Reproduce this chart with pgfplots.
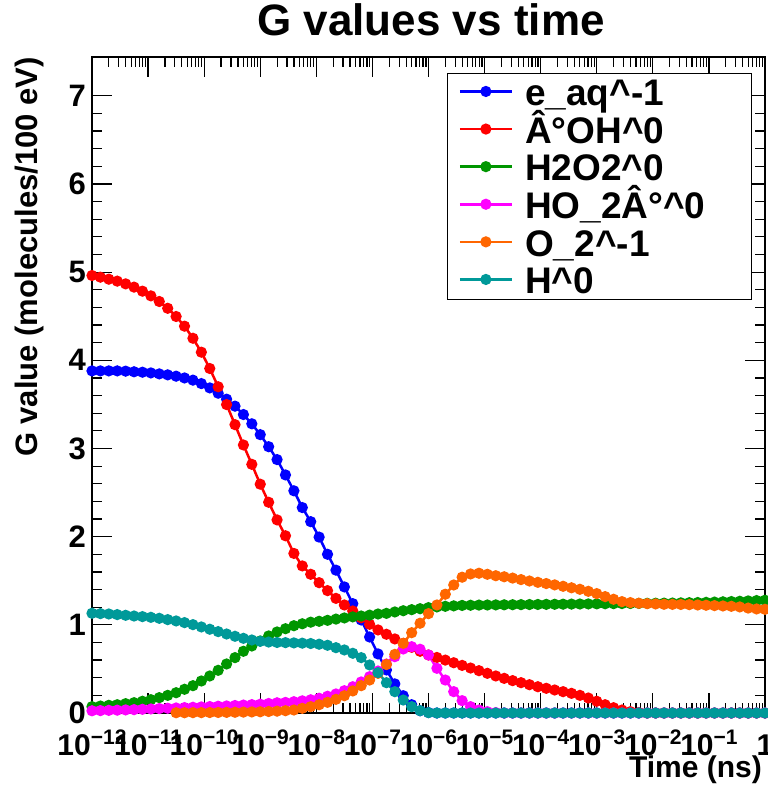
\documentclass[border=0pt]{standalone}
\usepackage{fontspec}
\setmainfont{Liberation Sans}
\usepackage{pgfplots}
\usepackage{pgfplotstable}
\pgfplotsset{compat=1.18}
\definecolor{cblue}{RGB}{0,0,255}
\definecolor{cred}{RGB}{255,0,0}
\definecolor{cgreen}{RGB}{0,150,0}
\definecolor{cmag}{RGB}{255,0,255}
\definecolor{corange}{RGB}{255,102,0}
\definecolor{cteal}{RGB}{0,153,153}

\pgfplotstableread{
lx b r g m o t
-12.00 3.880 4.962 0.072 0.025 nan 1.131
-11.85 3.880 4.943 0.079 0.027 nan 1.127
-11.70 3.880 4.920 0.087 0.030 nan 1.123
-11.55 3.880 4.898 0.094 0.032 nan 1.116
-11.40 3.877 4.867 0.106 0.035 nan 1.108
-11.25 3.870 4.830 0.117 0.038 nan 1.100
-11.10 3.865 4.784 0.133 0.042 nan 1.093
-10.95 3.857 4.731 0.151 0.046 nan 1.085
-10.80 3.846 4.667 0.174 0.050 nan 1.074
-10.65 3.835 4.590 0.200 0.054 nan 1.059
-10.50 3.820 4.497 0.230 0.057 0.003 1.044
-10.35 3.800 4.387 0.269 0.061 0.003 1.025
-10.20 3.775 4.250 0.310 0.065 0.004 1.002
-10.05 3.736 4.092 0.363 0.069 0.004 0.976
-9.90 3.687 3.907 0.420 0.073 0.005 0.950
-9.75 3.627 3.700 0.484 0.077 0.006 0.923
-9.60 3.559 3.498 0.556 0.080 0.007 0.896
-9.45 3.480 3.270 0.628 0.085 0.008 0.870
-9.30 3.385 3.040 0.700 0.090 0.010 0.847
-9.15 3.280 2.820 0.760 0.095 0.012 0.828
-9.00 3.157 2.595 0.817 0.100 0.014 0.813
-8.85 3.020 2.390 0.874 0.108 0.017 0.805
-8.70 2.874 2.190 0.919 0.116 0.021 0.800
-8.55 2.700 2.010 0.956 0.120 0.026 0.798
-8.40 2.520 1.810 0.990 0.128 0.034 0.795
-8.25 2.330 1.668 1.012 0.138 0.053 0.792
-8.10 2.170 1.573 1.030 0.150 0.072 0.788
-7.95 1.995 1.478 1.040 0.167 0.094 0.780
-7.80 1.800 1.388 1.051 0.190 0.121 0.768
-7.65 1.620 1.300 1.065 0.216 0.155 0.741
-7.50 1.430 1.225 1.078 0.253 0.196 0.715
-7.35 1.240 1.157 1.090 0.298 0.250 0.677
-7.20 1.055 1.080 1.100 0.352 0.310 0.628
-7.05 0.862 1.006 1.110 0.412 0.374 0.545
-6.90 0.670 0.942 1.123 0.476 0.450 0.458
-6.75 0.488 0.893 1.130 0.556 0.550 0.344
-6.60 0.330 0.840 1.146 0.639 0.665 0.242
-6.45 0.196 0.790 1.160 0.726 0.790 0.147
-6.30 0.094 0.745 1.172 0.752 0.911 0.072
-6.15 0.026 0.700 1.183 0.723 1.018 0.026
-6.00 0.005 0.658 1.195 0.658 1.127 0.004
-5.85 0.000 0.630 1.203 0.507 1.225 0.000
-5.70 0.000 0.600 1.210 0.374 1.347 0.000
-5.55 0.000 0.570 1.215 0.242 1.452 0.000
-5.40 0.000 0.540 1.220 0.140 1.540 0.000
-5.25 0.000 0.510 1.222 0.072 1.577 0.000
-5.10 0.000 0.480 1.224 0.034 1.585 0.000
-4.95 0.000 0.450 1.225 0.015 1.573 0.000
-4.80 0.000 0.420 1.226 0.005 1.557 0.000
-4.65 0.000 0.393 1.227 0.000 1.545 0.000
-4.50 0.000 0.367 1.228 0.000 1.530 0.000
-4.35 0.000 0.344 1.229 0.000 1.513 0.000
-4.20 0.000 0.321 1.230 0.000 1.497 0.000
-4.05 0.000 0.298 1.231 0.000 1.482 0.000
-3.90 0.000 0.280 1.232 0.000 1.468 0.000
-3.75 0.000 0.261 1.233 0.000 1.453 0.000
-3.60 0.000 0.242 1.234 0.000 1.437 0.000
-3.45 0.000 0.223 1.235 0.000 1.420 0.000
-3.30 0.000 0.200 1.236 0.000 1.403 0.000
-3.15 0.000 0.170 1.237 0.000 1.380 0.000
-3.00 0.000 0.133 1.238 0.000 1.354 0.000
-2.85 0.000 0.094 1.239 0.000 1.320 0.000
-2.70 0.000 0.060 1.240 0.000 1.290 0.000
-2.55 0.000 0.034 1.241 0.000 1.263 0.000
-2.40 0.000 0.015 1.242 0.000 1.252 0.000
-2.25 0.000 0.005 1.243 0.000 1.245 0.000
-2.10 0.000 0.000 1.244 0.000 1.240 0.000
-1.95 0.000 0.000 1.245 0.000 1.237 0.000
-1.80 0.000 0.000 1.246 0.000 1.233 0.000
-1.65 0.000 0.000 1.247 0.000 1.232 0.000
-1.50 0.000 0.000 1.249 0.000 1.231 0.000
-1.35 0.000 0.000 1.251 0.000 1.229 0.000
-1.20 0.000 0.000 1.253 0.000 1.225 0.000
-1.05 0.000 0.000 1.255 0.000 1.222 0.000
-0.90 0.000 0.000 1.258 0.000 1.218 0.000
-0.75 0.000 0.000 1.261 0.000 1.214 0.000
-0.60 0.000 0.000 1.264 0.000 1.210 0.000
-0.45 0.000 0.000 1.267 0.000 1.203 0.000
-0.30 0.000 0.000 1.271 0.000 1.190 0.000
-0.15 0.000 0.000 1.275 0.000 1.180 0.000
0.00 0.000 0.000 1.279 0.000 1.176 0.000
}\data

\newcommand\tp[1]{10\raisebox{11pt}{\fontsize{21}{21}\selectfont\bfseries #1}}
\newcommand\legbox[1]{\makebox[215pt][l]{#1}}

\def\mylist{1}
\foreach \e in {-12,...,-1}{\foreach \m in {2,...,9}{\xdef\mylist{\mylist,\m e\e}}}

\begin{document}
\begin{tikzpicture}
\useasboundingbox (-92pt,-74pt) rectangle (676pt,713pt);
\begin{axis}[
  at={(0pt,0pt)}, anchor=south west,
  scale only axis, width=673pt, height=656pt,
  xmode=log, xmin=1e-12, xmax=1, ymin=0, ymax=7.44,
  clip=false,
  axis line style={line width=1.5pt},
  every tick/.style={black, line width=1.2pt},
  major tick length=20pt, minor tick length=10pt,
  tick align=inside,
  xtick={1e-12,1e-11,1e-10,1e-9,1e-8,1e-7,1e-6,1e-5,1e-4,1e-3,1e-2,1e-1,1},
  xticklabels={\tp{−12},\tp{−11},\tp{−10},\tp{−9},\tp{−8},\tp{−7},\tp{−6},\tp{−5},\tp{−4},\tp{−3},\tp{−2},\tp{−1},1},
  minor xtick/.expanded={\mylist},
  ytick={0,1,2,3,4,5,6,7},
  yticklabels={0,1,2,3,4,5,6,7},
  minor y tick num=4,
  xticklabel style={anchor=base, inner sep=0pt, yshift=-42pt, font=\fontsize{30}{30}\selectfont\bfseries},
  yticklabel style={anchor=east, inner sep=0pt, xshift=-6pt, font=\fontsize{31}{31}\selectfont\bfseries},
  every axis plot/.append style={line width=2.5pt, mark=*, mark size=4.3pt, mark options={solid}},
  legend style={at={(0.5275,0.9756)}, anchor=north west, draw=black, line width=1.3pt, fill=white,
    inner xsep=11pt, inner ysep=0pt, column sep=12pt,
    font=\fontsize{37}{37}\selectfont\bfseries,
    cells={anchor=west},
    nodes={inner sep=0pt, text height=32pt, text depth=5.6pt}},
  legend cell align=left,
  legend image code/.code={\draw[mark repeat=2,mark phase=2,#1,line width=2.5pt] plot coordinates {(0pt,1pt)(26pt,1pt)(52pt,1pt)};},
]
\addplot[color=cblue] table[x expr=10^(\thisrow{lx}), y=b]{\data};
\addlegendentry{\legbox{e\_aq\textasciicircum-1}}
\addplot[color=cred] table[x expr=10^(\thisrow{lx}), y=r]{\data};
\addlegendentry{\legbox{Â°OH\textasciicircum0}}
\addplot[color=cgreen] table[x expr=10^(\thisrow{lx}), y=g]{\data};
\addlegendentry{\legbox{H2O2\textasciicircum0}}
\addplot[color=cmag] table[x expr=10^(\thisrow{lx}), y=m]{\data};
\addlegendentry{\legbox{HO\_2Â°\textasciicircum0}}
\addplot[color=corange] table[x expr=10^(\thisrow{lx}), y=o]{\data};
\addlegendentry{\legbox{O\_2\textasciicircum-1}}
\addplot[color=cteal] table[x expr=10^(\thisrow{lx}), y=t]{\data};
\addlegendentry{\legbox{H\textasciicircum0}}
\end{axis}
\node[anchor=base, font=\fontsize{44}{44}\selectfont\bfseries] at (339pt,677pt) {G values vs time};
\node[rotate=90, anchor=base east, inner sep=0pt, font=\fontsize{31}{31}\selectfont\bfseries] at (-54pt,656pt) {G value (molecules/100 eV)};
\node[anchor=base east, inner sep=0pt, font=\fontsize{30}{30}\selectfont\bfseries] at (670pt,-64pt) {Time (ns)};
\end{tikzpicture}
\end{document}
